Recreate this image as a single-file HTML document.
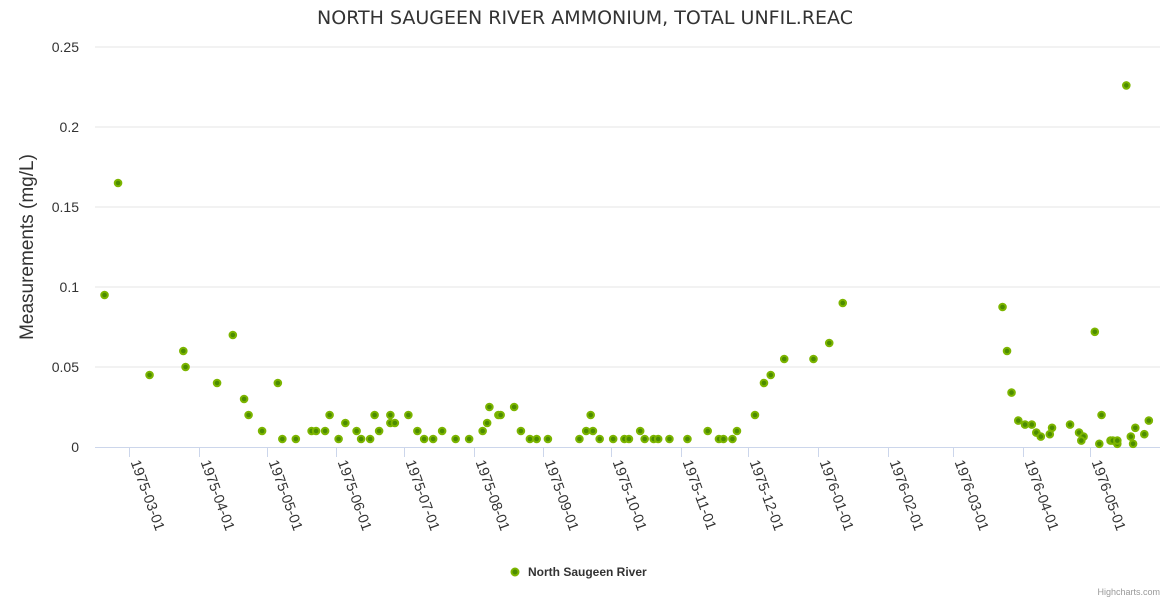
<!DOCTYPE html>
<html><head><meta charset="utf-8"><style>
body{margin:0;background:#fff;font-family:"Liberation Sans",sans-serif}
svg text{font-family:"Liberation Sans",sans-serif}
</style></head><body>
<svg id="chart" width="1170" height="600" xmlns="http://www.w3.org/2000/svg">
<text x="585" y="24" text-anchor="middle" font-size="19" fill="#333" style="font-family:'DejaVu Sans',sans-serif">NORTH SAUGEEN RIVER AMMONIUM, TOTAL UNFIL.REAC</text>
<text transform="translate(33,247) rotate(-90)" text-anchor="middle" font-size="19" fill="#333">Measurements (mg/L)</text>
<g id="grid"></g><g id="xaxis"></g><g id="points"></g>
<g>
<circle cx="515" cy="572" r="3.5" fill="#4c8c00" stroke="#7cb500" stroke-width="2"/>
<text x="528" y="576" font-size="12" font-weight="bold" fill="#333">North Saugeen River</text>
</g>
<text x="1160" y="595" text-anchor="end" font-size="9" fill="#999">Highcharts.com</text>
</svg>
<script>
const yTicks=[0,0.05,0.1,0.15,0.2,0.25];
const yTickLabels=["0","0.05","0.1","0.15","0.2","0.25"];
const xTicks=["1975-03-01","1975-04-01","1975-05-01","1975-06-01","1975-07-01","1975-08-01","1975-09-01","1975-10-01","1975-11-01","1975-12-01","1976-01-01","1976-02-01","1976-03-01","1976-04-01","1976-05-01"];
const dates=["1975-02-18","1975-02-24","1975-03-10","1975-03-25","1975-03-26","1975-04-09","1975-04-16","1975-04-21","1975-04-23","1975-04-29","1975-05-06","1975-05-08","1975-05-14","1975-05-21","1975-05-23","1975-05-27","1975-05-29","1975-06-02","1975-06-05","1975-06-10","1975-06-12","1975-06-16","1975-06-18","1975-06-20","1975-06-25","1975-06-25","1975-06-27","1975-07-03","1975-07-07","1975-07-10","1975-07-14","1975-07-18","1975-07-24","1975-07-30","1975-08-05","1975-08-07","1975-08-08","1975-08-12","1975-08-13","1975-08-19","1975-08-22","1975-08-26","1975-08-29","1975-09-03","1975-09-17","1975-09-20","1975-09-22","1975-09-23","1975-09-26","1975-10-02","1975-10-07","1975-10-09","1975-10-14","1975-10-16","1975-10-20","1975-10-22","1975-10-27","1975-11-04","1975-11-13","1975-11-18","1975-11-20","1975-11-24","1975-11-26","1975-12-04","1975-12-08","1975-12-11","1975-12-17","1975-12-30","1976-01-06","1976-01-12","1976-03-23","1976-03-25","1976-03-27","1976-03-30","1976-04-02","1976-04-05","1976-04-07","1976-04-09","1976-04-13","1976-04-14","1976-04-22","1976-04-26","1976-04-28","1976-04-27","1976-05-03","1976-05-05","1976-05-06","1976-05-10","1976-05-11","1976-05-13","1976-05-13","1976-05-17","1976-05-19","1976-05-20","1976-05-21","1976-05-25","1976-05-27"];
const values=[0.095,0.165,0.045,0.06,0.05,0.04,0.07,0.03,0.02,0.01,0.04,0.005,0.005,0.01,0.01,0.01,0.02,0.005,0.015,0.01,0.005,0.005,0.02,0.01,0.02,0.015,0.015,0.02,0.01,0.005,0.005,0.01,0.005,0.005,0.01,0.015,0.025,0.02,0.02,0.025,0.01,0.005,0.005,0.005,0.005,0.01,0.02,0.01,0.005,0.005,0.005,0.005,0.01,0.005,0.005,0.005,0.005,0.005,0.01,0.005,0.005,0.005,0.01,0.02,0.04,0.045,0.055,0.055,0.065,0.09,0.0875,0.06,0.034,0.0165,0.014,0.014,0.009,0.0065,0.008,0.012,0.014,0.009,0.0065,0.004,0.072,0.002,0.02,0.004,0.004,0.002,0.004,0.226,0.0065,0.002,0.012,0.008,0.0165];
const NS="http://www.w3.org/2000/svg";
const t0=Date.UTC(1975,2,1),pxDay=2.2506,x0=129.3;
function xs(d){const p=d.split("-").map(Number);return x0+(Date.UTC(p[0],p[1]-1,p[2])-t0)/86400000*pxDay;}
function ys(v){return 447-v*1600;}
function mk(tag,attrs,parent){const e=document.createElementNS(NS,tag);for(const k in attrs)e.setAttribute(k,attrs[k]);parent.appendChild(e);return e;}
const grid=document.getElementById("grid"),xa=document.getElementById("xaxis"),pts=document.getElementById("points");
yTicks.forEach((v,i)=>{
 if(i>0){const l=mk("line",{x1:95,x2:1160,y1:ys(v),y2:ys(v),stroke:"#e6e6e6"},grid);
 
 }
 const t=mk("text",{x:79,y:ys(v)+5,"text-anchor":"end","font-size":"14",fill:"#333"},grid);
 t.textContent=yTickLabels[i];
 
 
});
const ax=mk("line",{x1:95,x2:1160,y1:447.5,y2:447.5,stroke:"#ccd6eb"},xa);


xTicks.forEach(d=>{
 const x=Math.round(xs(d))+0.5;
 const tk=mk("line",{x1:x,x2:x,y1:447,y2:457,stroke:"#ccd6eb"},xa);
 
 
 const t=mk("text",{x:x+1,y:462,"font-size":"14.5",fill:"#333",transform:`rotate(70 ${x+1} 462)`},xa);
 t.textContent=d;
 
 
});
dates.forEach((d,i)=>{
 const c=mk("circle",{cx:xs(d),cy:ys(values[i]),r:3.3,fill:"#4c8c00",stroke:"#7cb500","stroke-width":2},pts);
 
 
});
</script>
</body></html>
